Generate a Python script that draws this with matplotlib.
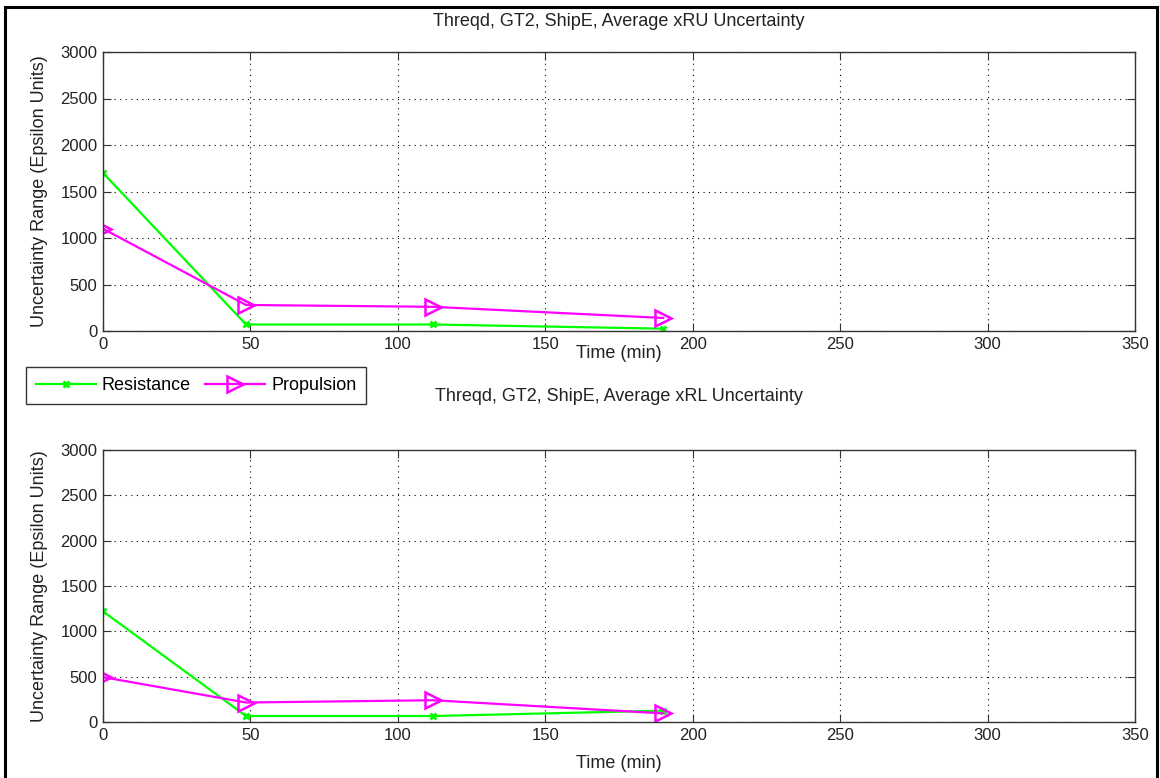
import matplotlib
matplotlib.use("Agg")
import matplotlib.pyplot as plt
from matplotlib.patches import Rectangle

plt.rcParams['font.family'] = ['Liberation Sans', 'DejaVu Sans']

# time points (min)
time_min = [0, 48.5, 112, 190]

# top panel: xRU
res_xru = [1700, 70, 70, 25]
prop_xru = [1100, 280, 260, 140]

# bottom panel: xRL
res_xrl = [1220, 66, 66, 125]
prop_xrl = [495, 215, 240, 95]

titles = ["Threqd, GT2, ShipE, Average xRU Uncertainty",
          "Threqd, GT2, ShipE, Average xRL Uncertainty"]
xticks = [0, 50, 100, 150, 200, 250, 300, 350]
yticks = [0, 500, 1000, 1500, 2000, 2500, 3000]

green = "#00ff00"
magenta = "#ff00ff"
txt = "#222222"

fig = plt.figure(figsize=(11.6, 7.78), dpi=100)

# outer black frame like the screenshot
fig.patches.append(Rectangle((5 / 1160, -0.01), 1152 / 1160, 1 - 7 / 778 + 0.01,
                             transform=fig.transFigure, fill=False,
                             edgecolor="black", linewidth=2.2))

ax1 = fig.add_axes([103 / 1160, 1 - 331 / 778, 1032 / 1160, 279 / 778])
ax2 = fig.add_axes([103 / 1160, 1 - 722 / 778, 1032 / 1160, 272 / 778])

# (axes, resistance, propulsion, title, title pad, xlabel pad)
panels = [(ax1, res_xru, prop_xru, titles[0], 19, -5),
          (ax2, res_xrl, prop_xrl, titles[1], 35, 9)]
for ax, res, prop, ttl, tpad, xpad in panels:
    ax.plot(time_min, res, color=green, marker="x", markersize=5, markeredgewidth=2,
            linewidth=1.6, label="Resistance")
    ax.plot(time_min, prop, color=magenta, marker=">", markersize=11, markerfacecolor="none",
            markeredgewidth=1.8, linewidth=1.6, label="Propulsion")
    ax.set_xlim(0, 350)
    ax.set_ylim(0, 3000)
    ax.set_xticks(xticks)
    ax.set_yticks(yticks)
    ax.grid(True, linestyle=(0, (1, 4)), color="black", linewidth=0.8)
    ax.tick_params(direction="in", length=6, labelsize=12, top=True, right=True,
                   color="#333333", labelcolor=txt, pad=4)
    ax.set_xlabel("Time (min)", fontsize=13, labelpad=xpad, color=txt)
    ax.set_ylabel("Uncertainty Range (Epsilon Units)", fontsize=13, labelpad=9, color=txt)
    ax.set_title(ttl, fontsize=13, pad=tpad, color=txt)
    for s in ax.spines.values():
        s.set_color("#333333")
        s.set_linewidth(1.0)

h, l = ax1.get_legend_handles_labels()
leg = fig.legend(h, l, loc="upper left", bbox_to_anchor=(26 / 1160, 1 - 367 / 778),
                 ncol=2, fontsize=13, frameon=True, fancybox=False, edgecolor="black",
                 handlelength=3.3, columnspacing=0.8, handletextpad=0.35,
                 borderpad=0.55, borderaxespad=0)
leg.get_frame().set_linewidth(1.0)

fig.savefig("out.png", dpi=100, facecolor="white")
